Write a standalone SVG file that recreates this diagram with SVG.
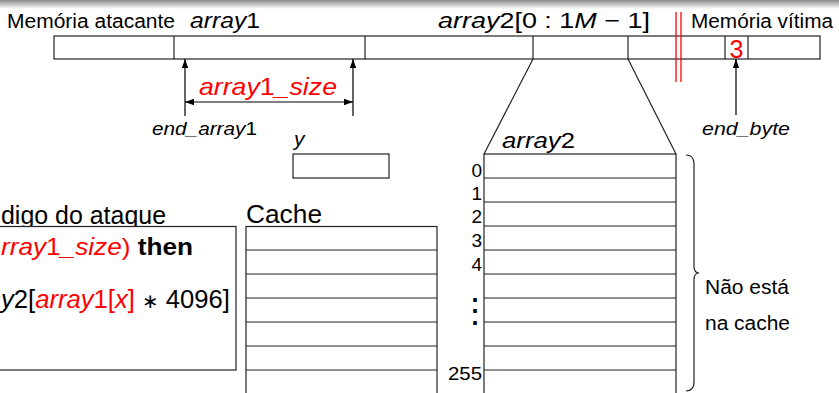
<svg xmlns="http://www.w3.org/2000/svg" width="839" height="393" viewBox="0 0 839 393">
<defs>
<linearGradient id="topShade" x1="0" y1="0" x2="0" y2="1">
<stop offset="0" stop-color="#8a8a8a"/>
<stop offset="1" stop-color="#ffffff"/>
</linearGradient>
<marker id="ah" viewBox="0 0 10 10" refX="10" refY="5" markerWidth="9" markerHeight="9" markerUnits="userSpaceOnUse" orient="auto-start-reverse">
<path d="M0 1.5 L10 5 L0 8.5 Z" fill="#000"/>
</marker>
</defs>
<style>
text{font-family:"Liberation Sans",Arial,Helvetica,sans-serif;fill:#000}
.it{font-style:italic}
.red{fill:#ff0000}
.box{fill:#fff;stroke:#222;stroke-width:1.2}
.ln{stroke:#222;stroke-width:1.2;fill:none}
.arr{stroke:#000;stroke-width:1.2;fill:none}
</style>
<rect x="0" y="0" width="839" height="9" fill="url(#topShade)"/>

<g id="memory-bar">
<rect class="box" x="54" y="36" width="766" height="23"/>
<line class="ln" x1="174" y1="36" x2="174" y2="59"/>
<line class="ln" x1="365" y1="36" x2="365" y2="59"/>
<line class="ln" x1="533" y1="36" x2="533" y2="59" stroke="#000"/>
<line class="ln" x1="628" y1="36" x2="628" y2="59" stroke="#000"/>
<line class="ln" x1="725" y1="36" x2="725" y2="59"/>
<line class="ln" x1="748" y1="36" x2="748" y2="59"/>
<text x="736.5" y="58" font-size="25" text-anchor="middle" class="red">3</text>
</g>
<g id="boundary">
<line x1="676" y1="12" x2="676" y2="82" stroke="#ff0000" stroke-width="1.3"/>
<line x1="681" y1="12" x2="681" y2="82" stroke="#ff0000" stroke-width="1.3"/>
</g>
<g id="labels-top">
<text x="7" y="28" font-size="20" textLength="168" lengthAdjust="spacingAndGlyphs">Memória atacante</text>
<text x="190" y="28" font-size="22" textLength="70" lengthAdjust="spacingAndGlyphs"><tspan class="it">array</tspan>1</text>
<text x="438" y="28" font-size="22" textLength="212" lengthAdjust="spacingAndGlyphs"><tspan class="it">array</tspan>2[0 : 1<tspan class="it">M</tspan> − 1]</text>
<text x="691" y="28" font-size="20" textLength="142" lengthAdjust="spacingAndGlyphs">Memória vítima</text>
</g>
<g id="size-label">
<text x="199" y="95" font-size="24" class="it red" textLength="138" lengthAdjust="spacingAndGlyphs">array<tspan font-style="normal">1</tspan>_size</text>
</g>
<g id="end-array1">
<text x="152" y="135" font-size="18" class="it" textLength="105" lengthAdjust="spacingAndGlyphs">end_array<tspan font-style="normal">1</tspan></text>
</g>
<g id="end-byte">
<text x="702" y="135" font-size="18" class="it" textLength="88" lengthAdjust="spacingAndGlyphs">end_byte</text>
</g>
<g id="y-var">
<text x="294" y="146" font-size="21" class="it">y</text>
<rect class="box" x="293" y="154" width="96" height="24"/>
</g>
<g id="array2">
<text x="502" y="148" font-size="22" textLength="73" lengthAdjust="spacingAndGlyphs"><tspan class="it">array</tspan>2</text>
<rect class="box" x="484" y="154" width="192" height="241"/>
<line class="ln" x1="484" y1="178" x2="676" y2="178"/>
<line class="ln" x1="484" y1="202" x2="676" y2="202"/>
<line class="ln" x1="484" y1="226" x2="676" y2="226"/>
<line class="ln" x1="484" y1="250" x2="676" y2="250"/>
<line class="ln" x1="484" y1="274" x2="676" y2="274"/>
<line class="ln" x1="484" y1="298" x2="676" y2="298"/>
<line class="ln" x1="484" y1="322" x2="676" y2="322"/>
<line class="ln" x1="484" y1="346" x2="676" y2="346"/>
<line class="ln" x1="484" y1="370" x2="676" y2="370"/>
<g font-size="19" text-anchor="end">
<text x="482" y="177">0</text>
<text x="482" y="200">1</text>
<text x="482" y="223">2</text>
<text x="482" y="247">3</text>
<text x="482" y="271">4</text>
<text x="482" y="380" textLength="34" lengthAdjust="spacingAndGlyphs">255</text>
</g>
<text x="475" y="322" font-size="34" text-anchor="middle" font-family="DejaVu Sans, sans-serif">⋮</text>
</g>
<g id="not-cached">
<path class="ln" d="M686 155 Q694 155 694 164 L694 266 Q694 273 699 273 Q694 273 694 280 L694 382 Q694 391 686 391"/>
<text x="705" y="294" font-size="20" textLength="84" lengthAdjust="spacingAndGlyphs">Não está</text>
<text x="705" y="330" font-size="20" textLength="85" lengthAdjust="spacingAndGlyphs">na cache</text>
</g>
<g id="cache">
<text x="246" y="223" font-size="25" textLength="76" lengthAdjust="spacingAndGlyphs">Cache</text>
<rect class="box" x="246" y="226.5" width="191" height="170"/>
<line class="ln" x1="246" y1="250" x2="437" y2="250"/>
<line class="ln" x1="246" y1="274" x2="437" y2="274"/>
<line class="ln" x1="246" y1="298" x2="437" y2="298"/>
<line class="ln" x1="246" y1="322" x2="437" y2="322"/>
<line class="ln" x1="246" y1="346" x2="437" y2="346"/>
<line class="ln" x1="246" y1="370" x2="437" y2="370"/>
</g>
<g id="attack-code">
<text x="1" y="224" font-size="26" textLength="165" lengthAdjust="spacingAndGlyphs">digo do ataque</text>
<rect class="box" x="-5" y="226.5" width="241" height="143.5"/>
<text x="1" y="255" font-size="24" textLength="192" lengthAdjust="spacingAndGlyphs"><tspan class="red"><tspan class="it">rray</tspan>1<tspan class="it">_size</tspan>)</tspan> <tspan font-weight="bold">then</tspan></text>
<text x="1" y="308" font-size="26" textLength="229" lengthAdjust="spacingAndGlyphs"><tspan class="it">y</tspan>2[<tspan class="red"><tspan class="it">array</tspan>1[<tspan class="it">x</tspan>]</tspan> <tspan font-size="20">∗</tspan> 4096]</text>
</g>
<g id="connectors">
<line class="arr" x1="185" y1="116" x2="185" y2="59" marker-end="url(#ah)"/>
<line class="arr" x1="353" y1="116" x2="353" y2="59" marker-end="url(#ah)"/>
<line class="arr" x1="185" y1="102" x2="353" y2="102" marker-start="url(#ah)" marker-end="url(#ah)"/>
<line class="arr" x1="736" y1="115" x2="736" y2="59" marker-end="url(#ah)"/>
<line class="ln" x1="533" y1="59" x2="484" y2="154"/>
<line class="ln" x1="628" y1="59" x2="676" y2="154"/>
</g>
</svg>
